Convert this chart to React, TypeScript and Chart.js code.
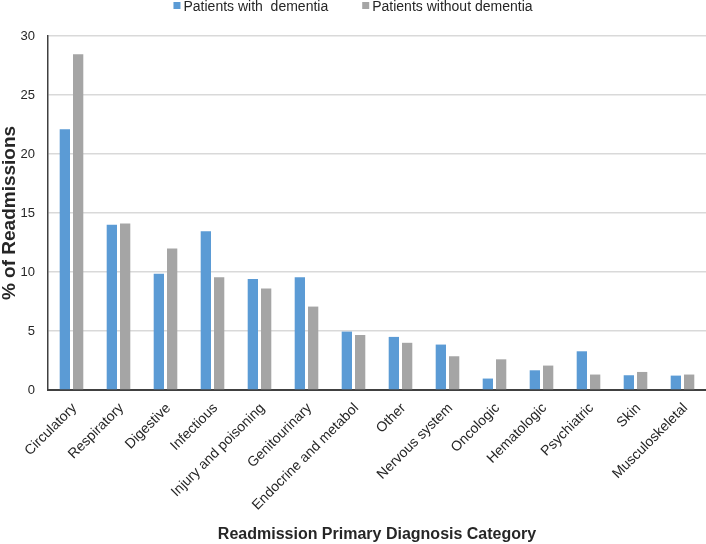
import React, { useEffect, useRef } from 'react';
import { Chart, registerables } from 'chart.js';

Chart.register(...registerables);

const categories = [
  'Circulatory',
  'Respiratory',
  'Digestive',
  'Infectious',
  'Injury and poisoning',
  'Genitourinary',
  'Endocrine and metabol',
  'Other',
  'Nervous system',
  'Oncologic',
  'Hematologic',
  'Psychiatric',
  'Skin',
  'Musculoskeletal',
];

const withDementia = [22.1, 14.0, 9.85, 13.45, 9.4, 9.55, 4.95, 4.5, 3.85, 0.97, 1.67, 3.28, 1.25, 1.22];
const withoutDementia = [28.45, 14.1, 12.0, 9.55, 8.6, 7.07, 4.66, 4.0, 2.86, 2.6, 2.07, 1.31, 1.53, 1.31];

const seriesLabels = ['Patients with  dementia', 'Patients without dementia'];
const seriesColors = ['#5B9BD5', '#A5A5A5'];

const yMin = 0;
const yMax = 30;
const yStep = 5;

const xTitle = 'Readmission Primary Diagnosis Category';
const yTitle = '% of Readmissions';

const FONT = '"Liberation Sans", Arial, Helvetica, sans-serif';
const TEXT = '#262626';

const topLegend = {
  id: 'topLegend',
  afterDraw(chart: any) {
    const ctx = chart.ctx as CanvasRenderingContext2D;
    ctx.save();
    ctx.font = `14px ${FONT}`;
    const box = 7;
    const gapText = 3;
    const gapItem = 34;
    const items = chart.data.datasets.map((d: any) => ({
      text: d.label as string,
      color: d.backgroundColor as string,
      w: ctx.measureText(d.label).width,
    }));
    const total =
      items.reduce((s: number, it: any) => s + box + gapText + it.w, 0) + gapItem * (items.length - 1);
    let x = chart.width / 2 - total / 2;
    items.forEach((it: any) => {
      ctx.fillStyle = it.color;
      ctx.fillRect(x, 2, box, box);
      x += box + gapText;
      ctx.fillStyle = TEXT;
      ctx.textBaseline = 'alphabetic';
      ctx.textAlign = 'left';
      ctx.fillText(it.text, x, 10.5);
      x += it.w + gapItem;
    });
    ctx.restore();
  },
};

export default function App() {
  const ref = useRef<HTMLCanvasElement | null>(null);

  useEffect(() => {
    if (!ref.current) return;
    const chart = new Chart(ref.current, {
      type: 'bar',
      data: {
        labels: categories,
        datasets: [
          {
            label: seriesLabels[0],
            data: withDementia,
            backgroundColor: seriesColors[0],
            borderWidth: 0,
            categoryPercentage: 0.566,
            barPercentage: 0.775,
          },
          {
            label: seriesLabels[1],
            data: withoutDementia,
            backgroundColor: seriesColors[1],
            borderWidth: 0,
            categoryPercentage: 0.566,
            barPercentage: 0.775,
          },
        ],
      },
      options: {
        animation: false,
        responsive: true,
        maintainAspectRatio: false,
        layout: { padding: { top: 36, right: 0, bottom: 0, left: 0 } },
        plugins: {
          legend: { display: false },
          tooltip: { enabled: false },
        },
        scales: {
          x: {
            grid: { display: false, drawTicks: false },
            border: { display: true, color: '#404040', width: 2 },
            ticks: {
              autoSkip: false,
              minRotation: 45,
              maxRotation: 45,
              padding: 10,
              labelOffset: 3,
              color: TEXT,
              font: { family: FONT, size: 14 },
            },
            title: {
              display: true,
              text: xTitle,
              color: TEXT,
              font: { family: FONT, size: 16, weight: 'bold' },
              padding: { top: 0, bottom: 0 },
            },
            afterFit: (s: any) => {
              s.height = 154;
            },
          },
          y: {
            min: yMin,
            max: yMax,
            grid: { color: '#D9D9D9', lineWidth: 1.5, drawTicks: false },
            border: { display: true, color: '#404040', width: 1.5 },
            ticks: {
              stepSize: yStep,
              padding: 13,
              color: TEXT,
              font: { family: FONT, size: 13 },
            },
            title: {
              display: true,
              text: yTitle,
              color: TEXT,
              font: { family: FONT, size: 19, weight: 'bold', lineHeight: 1 },
              padding: { top: 0, bottom: 0 },
            },
            afterFit: (s: any) => {
              s.width = 48;
            },
          },
        },
      } as any,
      plugins: [topLegend],
    });
    return () => chart.destroy();
  }, []);

  return (
    <div
      style={{
        position: 'absolute',
        left: 0,
        top: 0,
        width: 706,
        height: 544,
        background: '#ffffff',
      }}
    >
      <canvas ref={ref} />
    </div>
  );
}
